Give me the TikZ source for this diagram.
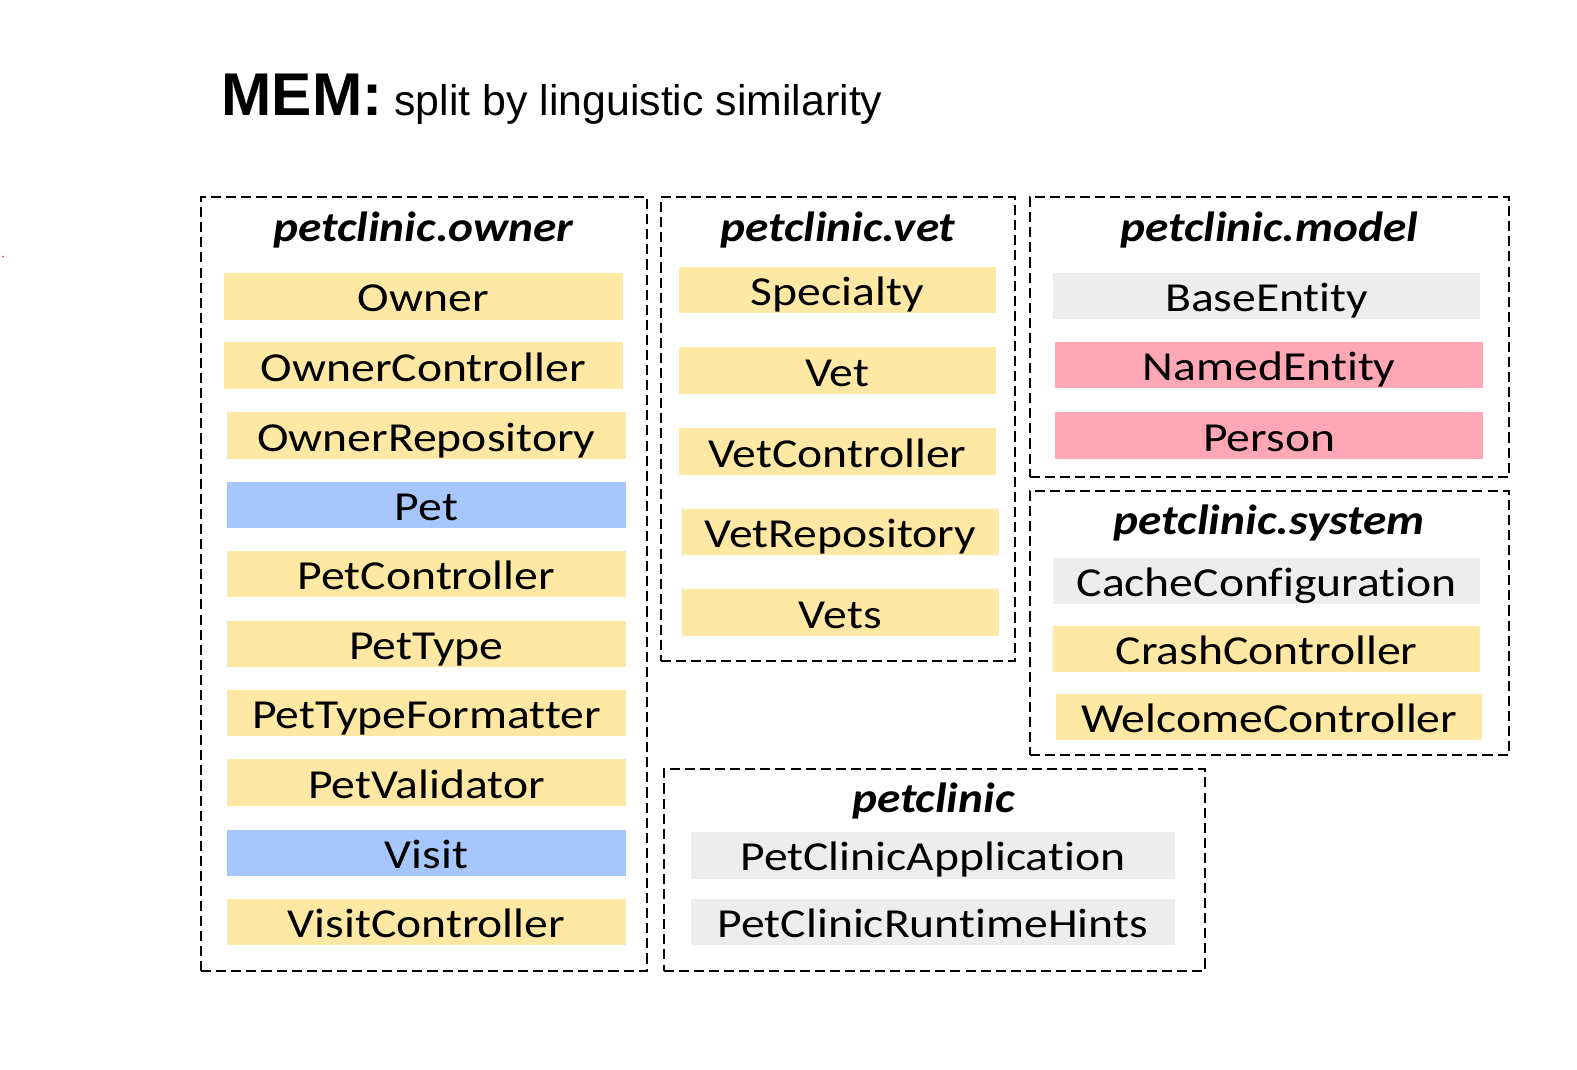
\documentclass[tikz,border=0pt]{standalone}
\usepackage{fontspec}
\newfontfamily\itemfont[FakeStretch=1.155, Ligatures=NoCommon]{Carlito}
\newfontfamily\titlefont[FakeStretch=1.12, Ligatures=NoCommon]{Carlito}
\newfontfamily\arialfont{Liberation Sans}
\definecolor{cyel}{HTML}{FFE8A4}
\definecolor{cblue}{HTML}{A7C7FC}
\definecolor{cpink}{HTML}{FFA7B5}
\definecolor{cgray}{HTML}{EDEDED}
\tikzset{
  cls/.style={rectangle, inner sep=0pt, draw=none, font=\itemfont\fontsize{20.5}{22}\selectfont,
    text height=16pt, text depth=0.5pt},
  grp/.style={rectangle, draw=black, line width=1pt, dash pattern=on 5pt off 2.5pt, inner sep=0pt},
  grptitle/.style={anchor=base, inner sep=0pt, font=\titlefont\bfseries\itshape\fontsize{21}{23}\selectfont}
}
\newcommand\cbox[7]{\node[cls, fill=#6, minimum width={(#4-#2)*0.5pt}, minimum height={(#5-#3)*0.5pt}] (#1) at ({(#2+#4)/2},{(#3+#5)/2}) {#7};}
\newcommand\gbox[5]{\node[grp, minimum width={(#4-#2)*0.5pt}, minimum height={(#5-#3)*0.5pt}] (#1) at ({(#2+#4)/2},{(#3+#5)/2}) {};}
\begin{document}
\begin{tikzpicture}[x=0.5pt, y=-0.5pt]
\useasboundingbox (0,0) rectangle (1568,1063);
\fill[red!80!black] (3,255) circle (0.8);
% title
\node[anchor=base west, inner sep=0pt] (title) at (220,115) {\arialfont\fontsize{30}{34}\selectfont\bfseries MEM:\mdseries\fontsize{21.3}{24}\selectfont\ split by linguistic similarity};
% groups
\gbox{gowner}{200}{196}{643}{965}
\gbox{gvet}{657}{196}{1009}{657}
\gbox{gmodel}{1024}{196}{1500}{474}
\gbox{gsystem}{1024}{488}{1500}{751}
\gbox{gpc}{660}{765}{1198}{965}
% group titles
\node[grptitle] (towner) at (421,240) {petclinic.owner};
\node[grptitle] (tvet) at (833,240) {petclinic.vet};
\node[grptitle] (tmodel) at (1262,240) {petclinic.model};
\node[grptitle] (tsystem) at (1262,531) {petclinic.system};
\node[grptitle] (tpc) at (928,808) {petclinic};
% owner
\cbox{owner}{223}{271}{619}{318}{cyel}{Owner}
\cbox{ownerctl}{223}{340}{619}{387}{cyel}{OwnerController}
\cbox{ownerrepo}{226}{410}{622}{456}{cyel}{OwnerRepository}
\cbox{pet}{226}{479}{622}{525}{cblue}{Pet}
\cbox{petctl}{226}{548}{622}{594}{cyel}{PetController}
\cbox{pettype}{226}{617}{622}{663}{cyel}{PetType}
\cbox{pettypefmt}{226}{686}{622}{732}{cyel}{PetTypeFormatter}
\cbox{petval}{226}{755}{622}{801}{cyel}{PetValidator}
\cbox{visit}{226}{825}{622}{871}{cblue}{Visit}
\cbox{visitctl}{226}{894}{622}{940}{cyel}{VisitController}
% vet
\cbox{specialty}{675}{265}{990}{311}{cyel}{Specialty}
\cbox{vet}{675}{345}{990}{392}{cyel}{Vet}
\cbox{vetctl}{675}{426}{990}{472}{cyel}{VetController}
\cbox{vetrepo}{678}{506}{993}{552}{cyel}{VetRepository}
\cbox{vets}{678}{586}{993}{632}{cyel}{Vets}
% model
\cbox{baseent}{1047}{271}{1472}{317}{cgray}{BaseEntity}
\cbox{namedent}{1049}{340}{1475}{386}{cpink}{NamedEntity}
\cbox{person}{1049}{410}{1475}{456}{cpink}{Person}
% system
\cbox{cachecfg}{1047}{555}{1472}{601}{cgray}{CacheConfiguration}
\cbox{crashctl}{1047}{622}{1472}{668}{cyel}{CrashController}
\cbox{welcomectl}{1050}{690}{1474}{736}{cyel}{WelcomeController}
% petclinic
\cbox{pcapp}{687}{827}{1168}{874}{cgray}{PetClinicApplication}
\cbox{pchints}{687}{894}{1168}{940}{cgray}{PetClinicRuntimeHints}
\end{tikzpicture}
\end{document}
